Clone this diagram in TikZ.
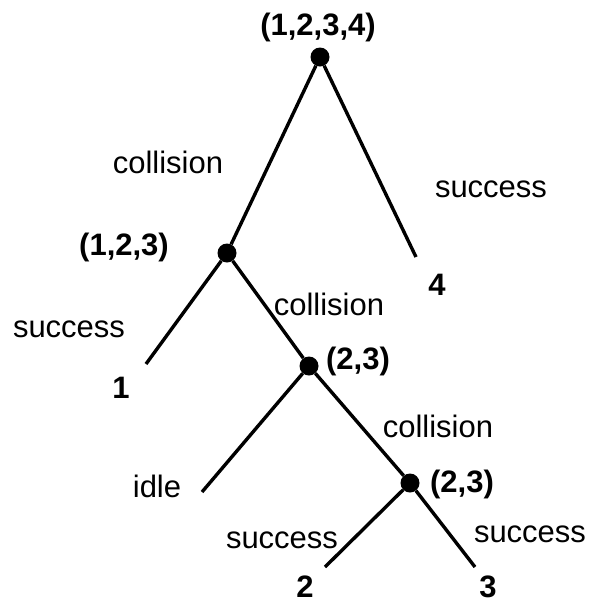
\documentclass[tikz,border=0pt]{standalone}
\usepackage{fontspec}
\setmainfont{Liberation Sans}
\usetikzlibrary{positioning}

\begin{document}
\begin{tikzpicture}[
  x=1pt, y=-1pt,
  dot/.style={circle, fill=black, inner sep=0pt, minimum size=19pt},
  branch/.style={line width=3.4pt},
  lbl/.style={anchor=base, inner sep=0pt, font=\fontsize{31}{36}\selectfont},
  set/.style={lbl, font=\fontsize{31}{36}\selectfont\bfseries}
]
  \useasboundingbox (0,0) rectangle (590,603);

  % Inner nodes
  \node[dot] (root) at (320, 57) {};
  \node[dot] (n123) at (227, 253) {};
  \node[dot] (n23a) at (309, 366) {};
  \node[dot] (n23b) at (410, 483) {};

  % Leaves
  \coordinate (leaf4) at (416, 257);
  \coordinate (leaf1) at (146, 364);
  \coordinate (leafidle) at (202, 492);
  \coordinate (leaf2) at (325, 567);
  \coordinate (leaf3) at (475, 567);

  % Branches
  \draw[branch] (root) -- (n123);
  \draw[branch] (root) -- (leaf4);
  \draw[branch] (n123) -- (leaf1);
  \draw[branch] (n123) -- (n23a);
  \draw[branch] (n23a) -- (leafidle);
  \draw[branch] (n23a) -- (n23b);
  \draw[branch] (n23b) -- (leaf2);
  \draw[branch] (n23b) -- (leaf3);

  % Sets at nodes
  \node[set] (s1234) at (318, 35) {(1,2,3,4)};
  \node[set] (s123) at (124, 255) {(1,2,3)};
  \node[set] (s23a) at (358, 369) {(2,3)};
  \node[set] (s23b) at (462, 492) {(2,3)};

  % Leaf labels
  \node[set] (t4) at (437, 295) {4};
  \node[set] (t1) at (121, 398) {1};
  \node[set] (t2) at (305, 597) {2};
  \node[set] (t3) at (488, 597) {3};

  % Outcomes
  \node[lbl] (o1) at (168, 173) {collision};
  \node[lbl] (o2) at (491, 197) {success};
  \node[lbl] (o3) at (69, 337) {success};
  \node[lbl] (o4) at (329, 315) {collision};
  \node[lbl] (o5) at (438, 437) {collision};
  \node[lbl] (o6) at (157, 497) {idle};
  \node[lbl] (o7) at (282, 548) {success};
  \node[lbl] (o8) at (530, 542) {success};
\end{tikzpicture}
\end{document}
